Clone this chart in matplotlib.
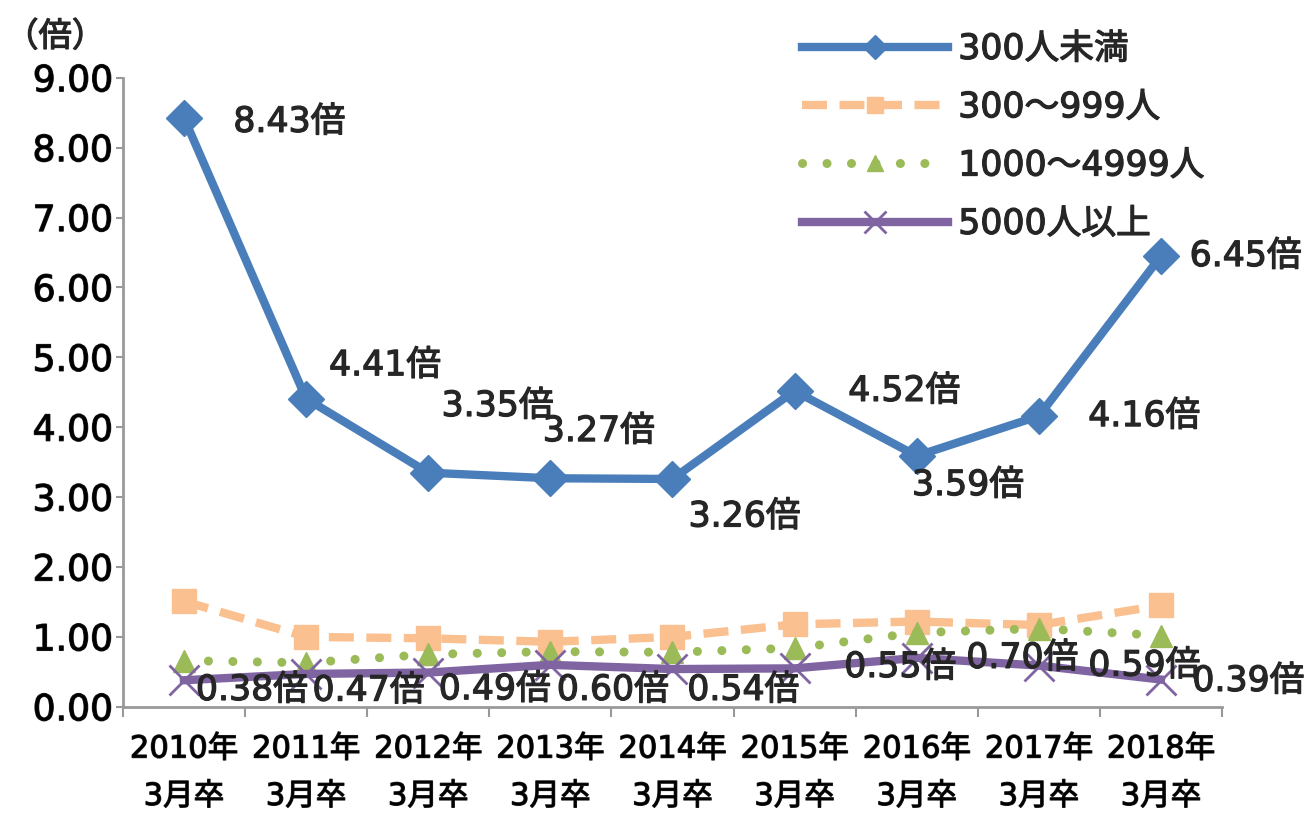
import matplotlib.pyplot as plt
import matplotlib.patheffects as pe
import numpy as np

plt.rcParams['font.family'] = ['DejaVu Sans', 'Noto Sans CJK JP']
plt.rcParams['text.color'] = '#262626'

years = ['2010年\n3月卒', '2011年\n3月卒', '2012年\n3月卒', '2013年\n3月卒', '2014年\n3月卒',
         '2015年\n3月卒', '2016年\n3月卒', '2017年\n3月卒', '2018年\n3月卒']
small = [8.43, 4.41, 3.35, 3.27, 3.26, 4.52, 3.59, 4.16, 6.45]
mid = [1.51, 1.00, 0.98, 0.93, 1.00, 1.18, 1.22, 1.17, 1.45]
large = [0.66, 0.63, 0.75, 0.79, 0.78, 0.84, 1.06, 1.12, 1.02]
huge = [0.38, 0.47, 0.49, 0.60, 0.54, 0.55, 0.70, 0.59, 0.39]

# label offsets in points (dx, dy) for each annotation
small_off = [(76, -3), (57, 24), (50, 48), (35, 34), (52, -27), (79, 0), (37, -21), (76, 0), (61, 0)]
huge_off = [(49, -7), (45, -12), (48, -12), (45, -18), (51, -15), (76, 1), (76, 0), (76, 0), (63, -1)]

# slightly heavier than regular, like the blurred original
thick = [pe.withStroke(linewidth=0.9, foreground='#262626')]

x = np.arange(len(years))

fig = plt.figure(figsize=(13.07, 8.19), dpi=100)
ax = fig.add_axes([0.094, 0.137, 0.841, 0.768])

ax.plot(x, mid, color='#FAC090', lw=6, dashes=(3, 1.5), marker='s', ms=17, label='300〜999人', zorder=2)
ax.plot(x, large, color='#9BBB59', lw=6.5, ls=(0, (0.01, 2.7)), dash_capstyle='round',
        marker='^', ms=16, label='1000〜4999人', zorder=3)
ax.plot(x, huge, color='#8064A2', lw=6, marker='x', ms=22, mew=2, label='5000人以上', zorder=4)
ax.plot(x, small, color='#4A7EBB', lw=6, marker='D', ms=18, label='300人未満', zorder=5)

for i, v in enumerate(small):
    ax.annotate(f'{v:.2f}倍', (x[i], v), xytext=small_off[i], textcoords='offset points',
                ha='center', va='center', fontsize=25, zorder=6, path_effects=thick)
for i, v in enumerate(huge):
    ax.annotate(f'{v:.2f}倍', (x[i], v), xytext=huge_off[i], textcoords='offset points',
                ha='center', va='center', fontsize=25, zorder=6, path_effects=thick)

ax.set_xlim(-0.5, len(years) - 0.5)
ax.set_ylim(0, 9)
ax.set_yticks(np.arange(0, 9.01, 1))
ax.set_yticklabels([f'{t:.2f}' for t in np.arange(0, 9.01, 1)], fontsize=26)
ax.set_xticks(x)
ax.set_xticklabels(years, fontsize=22, linespacing=1.8)
ax.set_xticks(np.arange(-0.5, len(years), 1), minor=True)
ax.tick_params(axis='x', which='major', length=0, pad=20)
ax.tick_params(axis='x', which='minor', length=7, color='#999999', width=1.5)
ax.tick_params(axis='y', length=5, color='#999999', width=1.5, pad=2)
for lab in ax.get_xticklabels() + ax.get_yticklabels():
    lab.set_path_effects(thick)

for s in ['top', 'right']:
    ax.spines[s].set_visible(False)
for s in ['left', 'bottom']:
    ax.spines[s].set_color('#999999')
    ax.spines[s].set_linewidth(2)

fig.text(0.004, 0.955, '（倍）', fontsize=24, ha='left', va='center', path_effects=thick)

handles, labels = ax.get_legend_handles_labels()
order = [3, 0, 1, 2]
leg = fig.legend([handles[i] for i in order], [labels[i] for i in order], loc='upper left',
                 bbox_to_anchor=(0.603, 0.978), frameon=False, fontsize=25, handlelength=4.2,
                 handletextpad=0.3, labelspacing=0.7, markerscale=0.7, borderaxespad=0)
for t in leg.get_texts():
    t.set_path_effects(thick)

fig.savefig('out.png', dpi=100)
